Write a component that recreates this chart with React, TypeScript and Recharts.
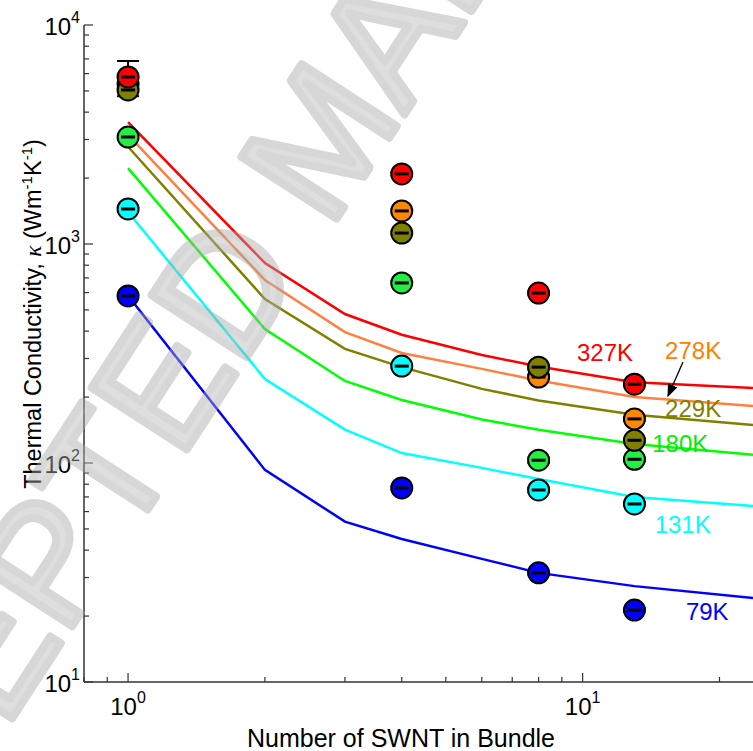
import React from "react";
import {
  ComposedChart,
  Line,
  Scatter,
  ErrorBar,
  XAxis,
  YAxis,
  ReferenceDot,
} from "recharts";

// measured bundles
const bundleN = [1, 4, 8, 13];
const k327 = [5790, 2090, 597, 229];
const k278 = [5400, 1416, 247, 159];
const k229 = [5050, 1122, 274, 127];
const k180 = [3080, 664, 103, 104];
const k131 = [1445, 277, 75.3, 65];
const k79 = [579, 76.9, 31.5, 21.3];
const err327 = [1060, 40, 12, 4];
const err278 = [120, 25, 6, 3];
const err229 = [110, 20, 6, 2.5];
const err180 = [70, 12, 3, 2];
const err131 = [40, 5, 2, 1.2];
const err79 = [14, 1.5, 0.6, 0.4];

// model curves
const modelN = [1, 2, 3, 4, 6, 8, 13, 23.7];
const m327 = [3600, 819, 479, 385, 311, 276, 234, 220];
const m278 = [3150, 685, 396, 318, 269, 238, 200, 182];
const m229 = [2780, 561, 332, 274, 218, 193, 166, 149];
const m180 = [2220, 409, 237, 194, 158, 142, 122, 109];
const m131 = [1400, 242, 142, 111, 95, 84.5, 70, 63.6];
const m79 = [580, 93, 54, 45, 36.5, 31.5, 27.4, 24.2];

const xTicks = [0.8, 0.9, 1, 2, 3, 4, 5, 6, 7, 8, 9, 10, 20];
const yTicks = [
  10, 20, 30, 40, 50, 60, 70, 80, 90, 100, 200, 300, 400, 500, 600, 700, 800,
  900, 1000, 2000, 3000, 4000, 5000, 6000, 7000, 8000, 9000, 10000,
];

const tempLabels = ["327K", "278K", "229K", "180K", "131K", "79K"];
const labelN = [11.2, 17.5, 17.5, 16.4, 16.6, 18.8];
const labelK = [318, 328, 178, 123, 52.6, 20.9];

const FONT = "'Liberation Sans', Arial, sans-serif";

const series = [
  { name: "79K", k: k79, e: err79, m: m79, line: "#0000ff", fill: "#0000ff" },
  { name: "131K", k: k131, e: err131, m: m131, line: "#00ffff", fill: "#00ffff" },
  { name: "180K", k: k180, e: err180, m: m180, line: "#00ff00", fill: "#22ee44" },
  { name: "278K", k: k278, e: err278, m: m278, line: "#ff8040", fill: "#ff8800" },
  { name: "229K", k: k229, e: err229, m: m229, line: "#808000", fill: "#7f7f00" },
  { name: "327K", k: k327, e: err327, m: m327, line: "#ff0000", fill: "#ff0000" },
];

const labelColor: Record<string, string> = {
  "327K": "#ff0000",
  "278K": "#ff8000",
  "229K": "#808000",
  "180K": "#00ee00",
  "131K": "#00ffff",
  "79K": "#0000ff",
};

const isDecade = (v: number) => {
  const e = Math.round(Math.log10(v));
  return Math.abs(Math.pow(10, e) - v) < 1e-6 * v;
};

const XTick = (props: any) => {
  const { x, y, payload, top } = props;
  const v = payload.value;
  const major = isDecade(v);
  const len = major ? 9 : 5;
  return (
    <g>
      <line x1={x} x2={x} y1={y} y2={top ? y + len : y - len} stroke="#333" strokeWidth={1.2} />
      {!top && major && (
        <text x={x} y={y + 33} textAnchor="middle" fontFamily={FONT} fontSize={24} fill="#000">
          <tspan>10</tspan>
          <tspan dy={-12} fontSize={16}>{Math.round(Math.log10(v))}</tspan>
        </text>
      )}
    </g>
  );
};

const YTick = (props: any) => {
  const { x, y, payload } = props;
  const v = payload.value;
  const major = isDecade(v);
  const len = major ? 9 : 5;
  return (
    <g>
      <line x1={x} x2={x + len} y1={y} y2={y} stroke="#333" strokeWidth={1.2} />
      {major && (
        <text x={x - 4} y={y + 10} textAnchor="end" fontFamily={FONT} fontSize={24} fill="#000">
          <tspan>10</tspan>
          <tspan dy={-12} fontSize={16}>{Math.round(Math.log10(v))}</tspan>
        </text>
      )}
    </g>
  );
};

const Marker = (props: any) => {
  const { cx, cy, fill } = props;
  if (cx == null || cy == null) return null;
  return (
    <g>
      <circle cx={cx} cy={cy} r={10.5} fill={fill} stroke="#000" strokeWidth={2} />
      <line x1={cx - 7} x2={cx + 7} y1={cy} y2={cy} stroke="#000" strokeWidth={3} />
    </g>
  );
};

export default function App() {
  const W = 753;
  const H = 751;
  return (
    <div style={{ position: "absolute", left: 0, top: 0, width: W, height: H, background: "#fff", overflow: "hidden" }}>
      <ComposedChart width={W} height={H} margin={{ top: 25, right: 0, bottom: 0, left: 24 }}>
        <XAxis
          xAxisId="b"
          type="number"
          dataKey="n"
          scale="log"
          domain={[0.8, 23.7]}
          ticks={xTicks}
          allowDataOverflow
          height={69}
          tickLine={false}
          tickSize={0}
          tickMargin={0}
          tick={<XTick />}
          stroke="#333"
          strokeWidth={1.5}
          interval={0}
        />
        <XAxis
          xAxisId="t"
          orientation="top"
          type="number"
          dataKey="n"
          scale="log"
          domain={[0.8, 23.7]}
          ticks={xTicks}
          allowDataOverflow
          height={0}
          tickLine={false}
          tickSize={0}
          tickMargin={0}
          tick={<XTick top />}
          stroke="#333"
          strokeWidth={1.5}
          interval={0}
        />
        <YAxis
          type="number"
          dataKey="k"
          scale="log"
          domain={[10, 10000]}
          ticks={yTicks}
          allowDataOverflow
          width={60}
          tickLine={false}
          tickSize={0}
          tickMargin={0}
          tick={<YTick />}
          stroke="#333"
          strokeWidth={1.5}
          interval={0}
        />
        {series.map((s) => (
          <Line
            key={"l" + s.name}
            xAxisId="b"
            data={modelN.map((n, i) => ({ n, k: s.m[i] }))}
            dataKey="k"
            type="linear"
            stroke={s.line}
            strokeWidth={2.5}
            dot={false}
            isAnimationActive={false}
          />
        ))}
        {series.map((s) => (
          <Scatter
            key={"s" + s.name}
            xAxisId="b"
            data={bundleN.map((n, i) => ({ n, k: s.k[i], e: s.e[i] }))}
            dataKey="k"
            fill={s.fill}
            shape={<Marker />}
            isAnimationActive={false}
          >
            <ErrorBar dataKey="e" direction="y" width={11} stroke="#000" strokeWidth={2} />
          </Scatter>
        ))}
        {tempLabels.map((t, i) => (
          <ReferenceDot
            key={t}
            xAxisId="b"
            x={labelN[i]}
            y={labelK[i]}
            r={0}
            fill="none"
            stroke="none"
            ifOverflow="visible"
            label={{ value: t, position: "center", fill: labelColor[t], fontSize: 24, fontFamily: FONT }}
          />
        ))}
      </ComposedChart>
      <svg width={W} height={H} style={{ position: "absolute", left: 0, top: 0, pointerEvents: "none" }}>
        <defs>
          <marker id="ah" markerWidth="10" markerHeight="8" refX="9" refY="4" orient="auto">
            <path d="M0,0 L10,4 L0,8 z" fill="#000" />
          </marker>
        </defs>
        <line x1={683} y1={362} x2={668} y2={396} stroke="#000" strokeWidth={1.3} markerEnd="url(#ah)" />
        <text x={401} y={747} textAnchor="middle" fontFamily={FONT} fontSize={25} fill="#000">
          Number of SWNT in Bundle
        </text>
        <text
          transform="translate(41,314) rotate(-90)"
          textAnchor="middle"
          fontFamily={FONT}
          fontSize={23.5}
          fill="#000"
        >
          <tspan>Thermal Conductivity, </tspan>
          <tspan fontFamily="'Liberation Serif', serif" fontStyle="italic">κ</tspan>
          <tspan> (Wm</tspan>
          <tspan dy={-9} fontSize={15}>-1</tspan>
          <tspan dy={9}>K</tspan>
          <tspan dy={-9} fontSize={15}>-1</tspan>
          <tspan dy={9}>)</tspan>
        </text>
        <g opacity={0.45}>
          <text
            transform="translate(-185,1022) rotate(-57)"
            fontFamily={FONT}
            fontSize={165}
            fill="#b8b8b8"
            stroke="#a8a8a8"
            strokeWidth={8}
            strokeLinejoin="round"
          >
            ACCEPTED MANUSCRIPT
          </text>
        </g>
      </svg>
    </div>
  );
}
